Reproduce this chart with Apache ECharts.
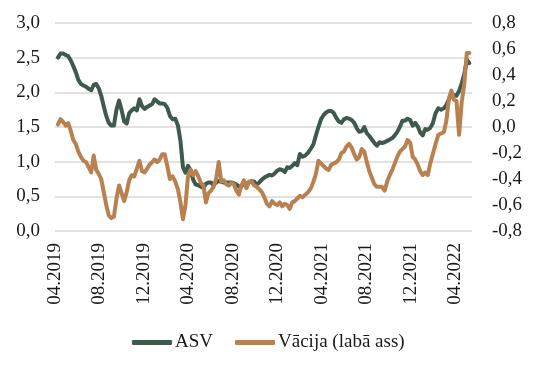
<!DOCTYPE html>
<html>
<head>
<meta charset="utf-8">
<script src="https://cdn.jsdelivr.net/npm/echarts@6/dist/echarts.min.js"></script>
<style>html,body{margin:0;padding:0;background:#fff}#c{width:539px;height:373px}</style>
</head>
<body>
<div id="c"></div>
<script>
// Weekly observations starting 2019-04-09
const startDate = '2019-04-09';
const stepDays = 7;
const seriesNames = ['ASV', 'Vācija (labā ass)'];
const asv = [
2.50,2.56,2.56,2.54,2.52,2.46,2.38,2.29,2.18,2.12,2.10,2.08,2.05,2.03,2.11,2.12,2.06,1.95,1.80,1.66,
1.56,1.52,1.52,1.75,1.88,1.74,1.58,1.55,1.70,1.74,1.77,1.74,1.90,1.80,1.76,1.79,1.81,1.83,1.90,1.87,
1.84,1.84,1.83,1.78,1.66,1.61,1.62,1.52,1.30,0.92,0.84,0.94,0.88,0.74,0.67,0.66,0.64,0.62,0.68,0.70,
0.70,0.66,0.70,0.72,0.71,0.70,0.70,0.70,0.70,0.69,0.67,0.64,0.65,0.67,0.69,0.70,0.72,0.71,0.67,0.70,
0.74,0.77,0.79,0.81,0.80,0.83,0.87,0.89,0.88,0.85,0.92,0.91,0.94,0.98,0.95,1.11,1.07,1.09,1.13,1.19,
1.25,1.38,1.50,1.61,1.67,1.71,1.73,1.73,1.70,1.63,1.58,1.56,1.61,1.63,1.62,1.60,1.56,1.48,1.43,1.44,
1.50,1.41,1.37,1.32,1.27,1.23,1.28,1.27,1.28,1.30,1.32,1.34,1.38,1.43,1.50,1.59,1.59,1.62,1.60,1.52,
1.56,1.51,1.42,1.38,1.47,1.46,1.49,1.55,1.70,1.77,1.75,1.77,1.82,1.90,1.96,1.96,1.95,2.02,2.13,2.26,
2.47,2.42];
const vacija = [
0.02,0.06,0.04,0.01,0.03,-0.03,-0.10,-0.13,-0.19,-0.23,-0.26,-0.27,-0.31,-0.35,-0.22,-0.33,-0.36,-0.40,-0.50,-0.60,
-0.68,-0.70,-0.69,-0.55,-0.45,-0.51,-0.57,-0.50,-0.41,-0.37,-0.38,-0.32,-0.26,-0.34,-0.35,-0.32,-0.29,-0.27,-0.25,-0.27,
-0.25,-0.21,-0.21,-0.30,-0.40,-0.38,-0.42,-0.48,-0.58,-0.71,-0.60,-0.38,-0.33,-0.37,-0.34,-0.38,-0.43,-0.45,-0.58,-0.51,
-0.49,-0.46,-0.40,-0.27,-0.42,-0.41,-0.44,-0.45,-0.43,-0.44,-0.49,-0.52,-0.45,-0.41,-0.47,-0.42,-0.42,-0.45,-0.46,-0.48,
-0.50,-0.54,-0.59,-0.61,-0.57,-0.59,-0.60,-0.58,-0.61,-0.59,-0.60,-0.63,-0.58,-0.57,-0.55,-0.53,-0.54,-0.52,-0.50,-0.47,
-0.42,-0.36,-0.26,-0.28,-0.30,-0.32,-0.33,-0.29,-0.28,-0.27,-0.25,-0.20,-0.19,-0.15,-0.13,-0.16,-0.21,-0.25,-0.23,-0.17,
-0.19,-0.27,-0.34,-0.39,-0.44,-0.46,-0.46,-0.46,-0.49,-0.42,-0.37,-0.33,-0.28,-0.23,-0.19,-0.17,-0.15,-0.10,-0.12,-0.23,
-0.25,-0.29,-0.34,-0.37,-0.35,-0.37,-0.28,-0.21,-0.13,-0.06,-0.05,-0.04,0.05,0.22,0.28,0.21,0.20,-0.06,0.19,0.33,
0.57,0.57];
const leftTicks = {min: 0, max: 3, interval: 0.5};
const rightTicks = {min: -0.8, max: 0.8, interval: 0.2};
const xTicks = {min: 0, max: 37.53, interval: 4}; // months since 04.2019

function monthOffset(d) {
  const y = d.getUTCFullYear(), m = d.getUTCMonth(), day = d.getUTCDate();
  const dim = new Date(Date.UTC(y, m + 1, 0)).getUTCDate();
  return (y - 2019) * 12 + (m - 3) + (day - 1) / dim;
}
const t0 = new Date(startDate + 'T00:00:00Z').getTime();
const xs = asv.map((_, i) => monthOffset(new Date(t0 + i * stepDays * 86400000)));
function fmtMonth(v) {
  const total = Math.round(v) + 3;
  const y = 2019 + Math.floor(total / 12);
  const m = total % 12 + 1;
  return (m < 10 ? '0' : '') + m + '.' + y;
}
const comma = v => v.toFixed(1).replace('.', ',');
const font = 'Liberation Serif';
const txt = {fontFamily: font, fontSize: 19, color: '#1a1a1a'};

const chart = echarts.init(document.getElementById('c'), null, {renderer: 'canvas'});
chart.setOption({
  animation: false,
  grid: {left: 55, right: 67, top: 23, bottom: 142},
  xAxis: {
    type: 'value', min: xTicks.min, max: xTicks.max, interval: xTicks.interval,
    axisLine: {show: false}, axisTick: {show: false}, splitLine: {show: false},
    axisLabel: Object.assign({rotate: 90, margin: 12, formatter: fmtMonth, showMaxLabel: false, showMinLabel: true}, txt)
  },
  yAxis: [
    {type: 'value', min: leftTicks.min, max: leftTicks.max, interval: leftTicks.interval,
     axisLine: {show: false}, axisTick: {show: false},
     splitLine: {show: true, lineStyle: {color: '#d9d9d9', width: 1.5}},
     axisLabel: Object.assign({margin: 15, formatter: comma}, txt)},
    {type: 'value', min: rightTicks.min, max: rightTicks.max, interval: rightTicks.interval,
     position: 'right', axisLine: {show: false}, axisTick: {show: false}, splitLine: {show: false},
     axisLabel: Object.assign({margin: 20, formatter: comma}, txt)}
  ],
  legend: {
    left: 127, top: 328, itemWidth: 40, itemHeight: 5, itemGap: 22,
    textStyle: Object.assign({padding: [0, 0, 0, -2]}, txt), icon: 'roundRect',
    data: seriesNames
  },
  series: [
    {name: seriesNames[0], type: 'line', yAxisIndex: 0, symbol: 'none',
     lineStyle: {color: '#3f5a4d', width: 4, cap: 'round', join: 'round'},
     itemStyle: {color: '#3f5a4d'},
     data: asv.map((v, i) => [xs[i], v])},
    {name: seriesNames[1], type: 'line', yAxisIndex: 1, symbol: 'none',
     lineStyle: {color: '#b8814f', width: 4, cap: 'round', join: 'round'},
     itemStyle: {color: '#b8814f'},
     data: vacija.map((v, i) => [xs[i], v])}
  ]
});
</script>
</body>
</html>
